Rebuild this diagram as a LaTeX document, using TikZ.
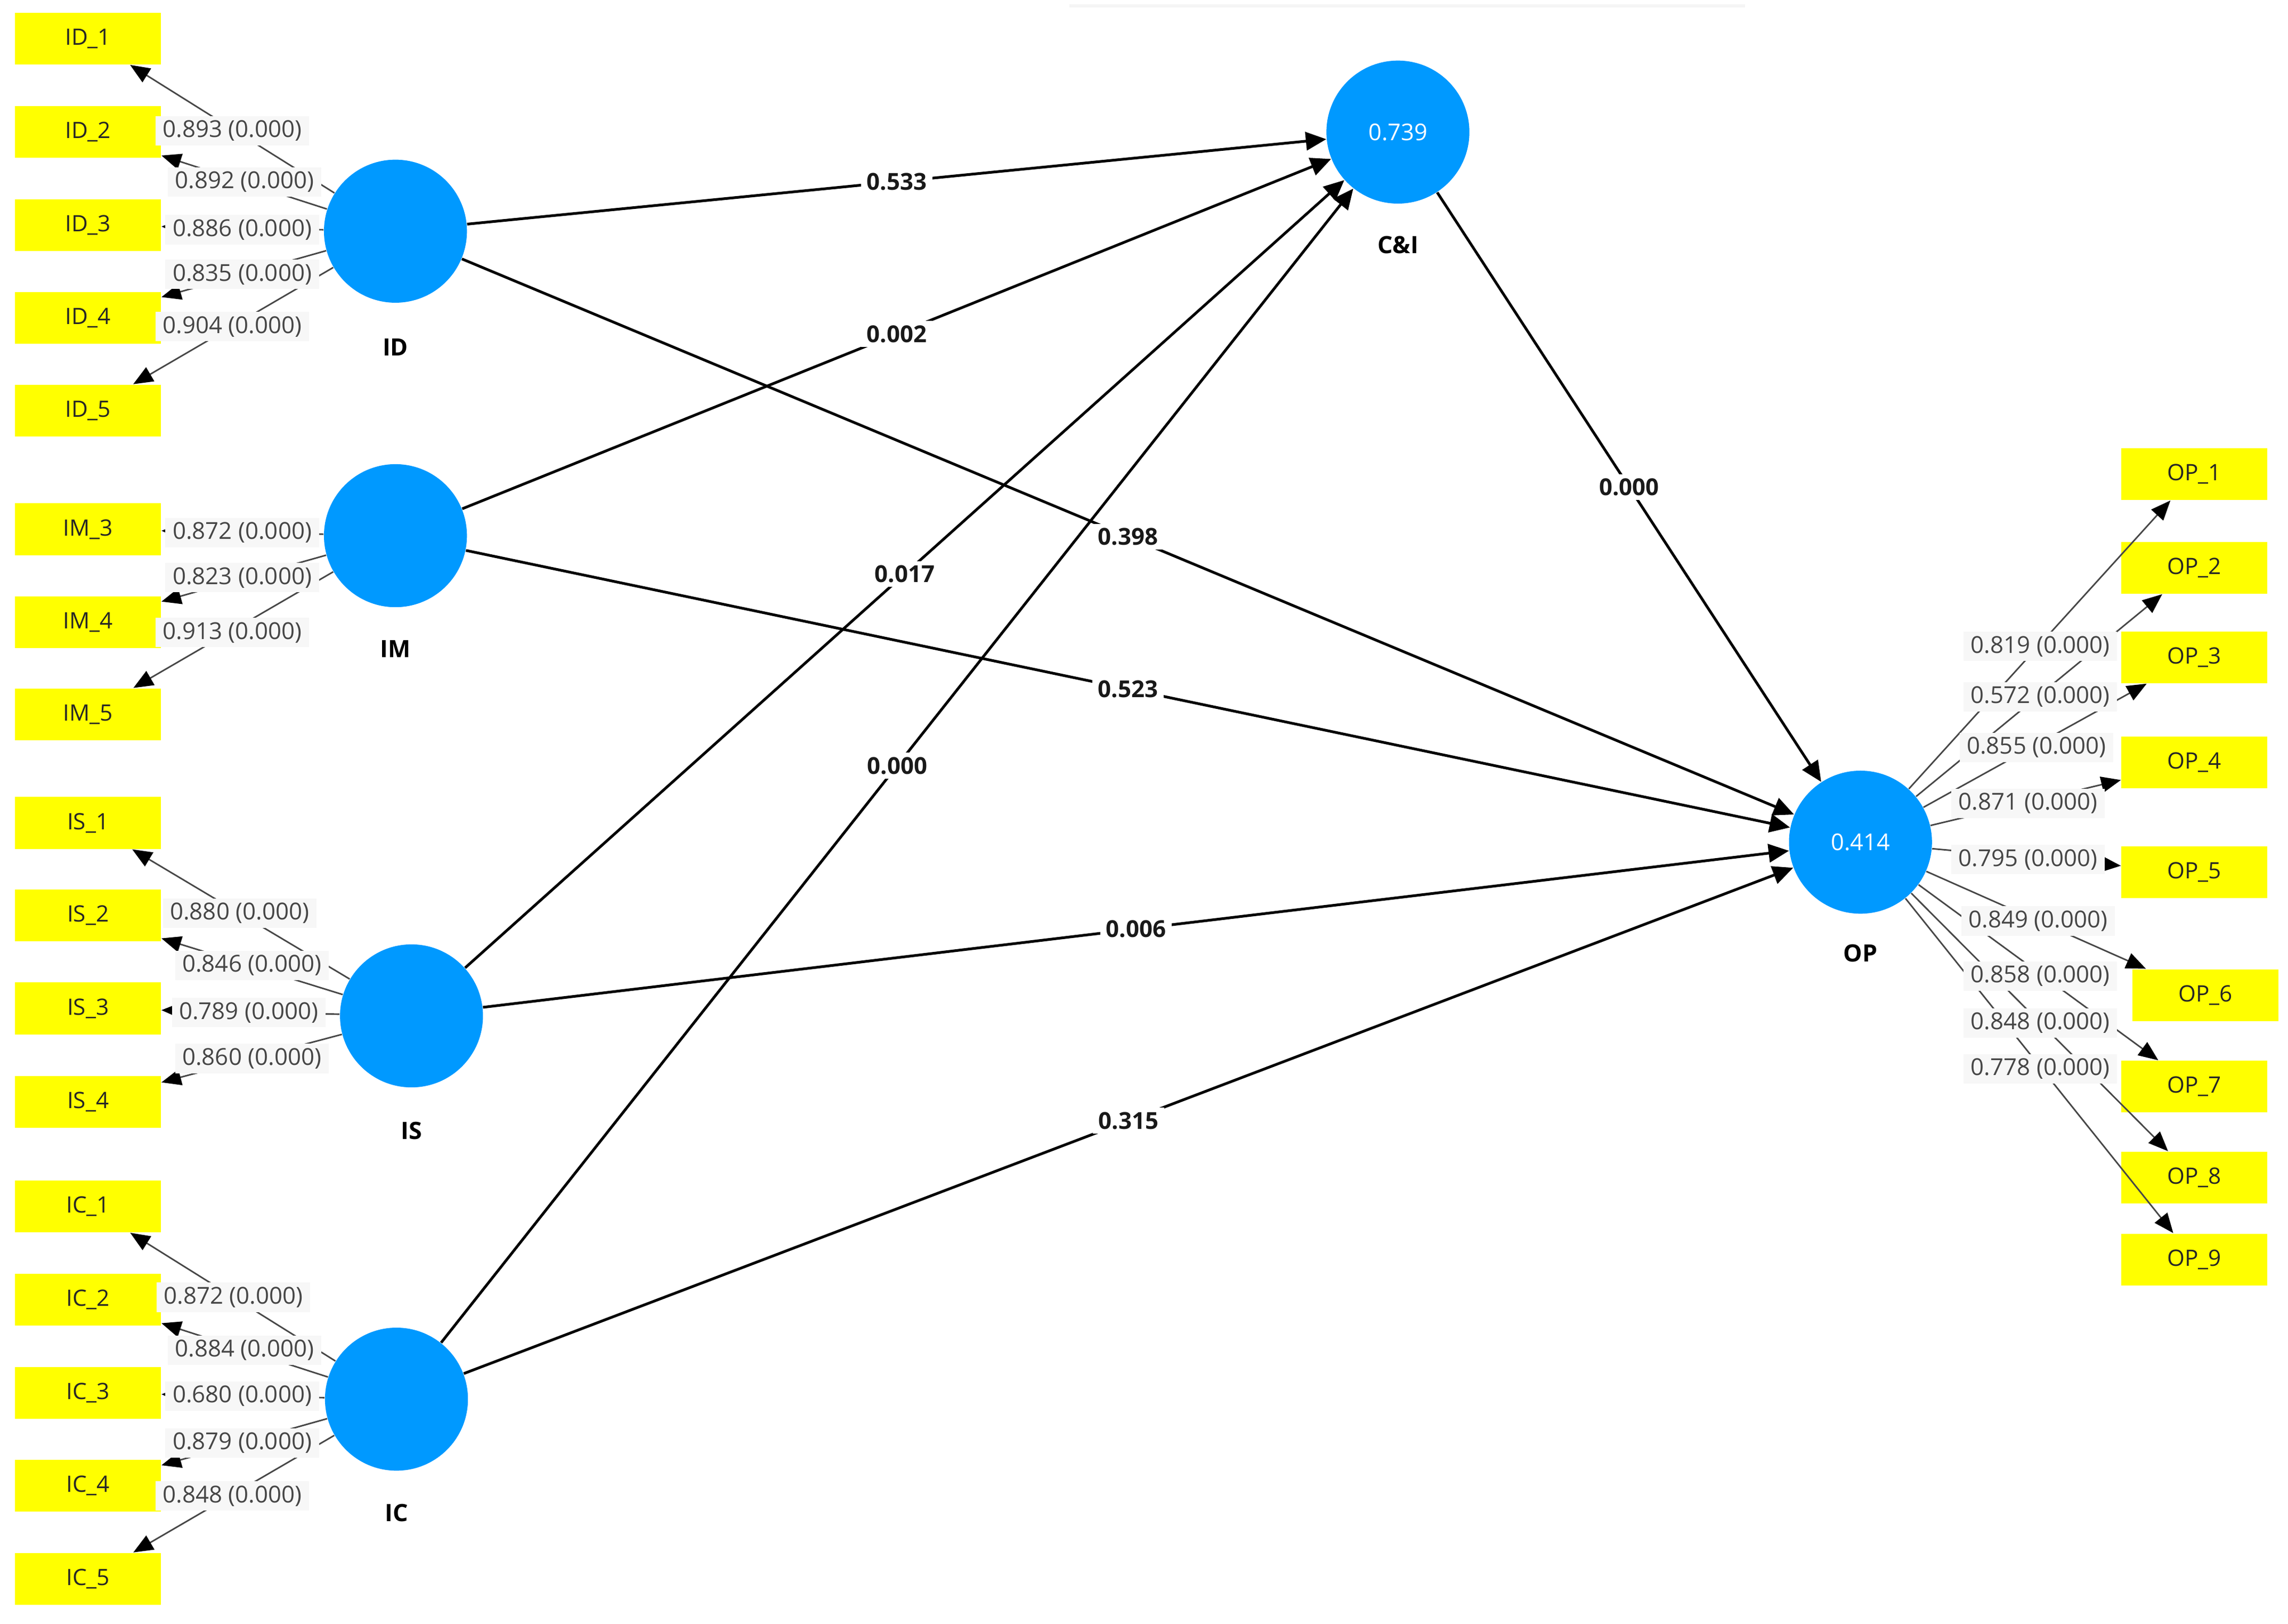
\documentclass[tikz,border=0pt]{standalone}
\usepackage{fontspec}
\setmainfont{Open Sans}
\usetikzlibrary{arrows.meta}
\definecolor{lvblue}{RGB}{0,153,255}
\definecolor{mvyellow}{RGB}{255,255,0}
\definecolor{loadtxt}{RGB}{70,70,70}
\definecolor{loadbg}{RGB}{247,247,247}
\begin{document}
\begin{tikzpicture}[x=0.02cm,y=-0.02cm,
  mv/.style={fill=mvyellow, minimum width=2cm, minimum height=0.71cm, inner sep=0pt, font=\fontsize{8.8}{10}\selectfont, text=black!85},
  lv/.style={circle, fill=lvblue, minimum size=1.96cm, inner sep=0pt, font=\fontsize{9}{10}\selectfont, text=white},
  lvname/.style={font=\bfseries\fontsize{9.3}{10}\selectfont, text=black},
  load/.style={draw=black!72, line width=0.6pt, -{Triangle[length=0.27cm,width=0.22cm,color=black]}},
  struct/.style={draw=black, line width=1.05pt, -{Triangle[length=0.28cm,width=0.25cm]}},
  loadlbl/.style={fill=loadbg, text=loadtxt, inner xsep=0.1cm, inner ysep=0.06cm, font=\fontsize{9.1}{10}\selectfont},
  coef/.style={fill=white, text=black!90, inner xsep=0.08cm, inner ysep=0.06cm, font=\bfseries\fontsize{9.1}{10}\selectfont}]

\fill[white] (0,0) rectangle (1568,1112.3);
\useasboundingbox (0,0) rectangle (1568,1112.3);

% faint artefact at the top
\draw[black!4, line width=1.2pt] (733,4) -- (1196,4);

% latent variables
\node[lv] (ID) at (271,158.4) {};
\node[lv] (IM) at (271,367) {};
\node[lv] (IS) at (282,696) {};
\node[lv] (IC) at (271.7,958.6) {};
\node[lv] (CI) at (958,90.5) {0.739};
\node[lv] (OP) at (1275,577) {0.414};

\node[lvname] (nID) at (271,238) {ID};
\node[lvname] (nIM) at (271,444.5) {IM};
\node[lvname] (nIS) at (282,774.6) {IS};
\node[lvname] (nIC) at (271.7,1036.5) {IC};
\node[lvname] (nCI) at (958,167.7) {C\&I};
\node[lvname] (nOP) at (1275,653) {OP};

% indicators
\foreach \n/\y in {1/26.4,2/90.3,3/154.2,4/217.7,5/281.3}
  \node[mv] (id\n) at (60.3,\y) {ID\_\n};
\foreach \n/\y in {3/362.6,4/426.3,5/489.4}
  \node[mv] (im\n) at (60.3,\y) {IM\_\n};
\foreach \n/\y in {1/563.8,2/627.3,3/690.9,4/754.9}
  \node[mv] (is\n) at (60.3,\y) {IS\_\n};
\foreach \n/\y in {1/826.5,2/890.3,3/954.2,4/1018,5/1081.7}
  \node[mv] (ic\n) at (60.3,\y) {IC\_\n};
\foreach \n/\y in {1/324.8,2/389,3/450.3,4/522.4,5/597.7,7/744.5,8/806.8,9/862.9}
  \node[mv] (op\n) at (1503.8,\y) {OP\_\n};
\node[mv] (op6) at (1511.4,681.8) {OP\_6};

% loading arrows
\foreach \n in {1,...,5} \draw[load] (ID) -- (id\n);
\foreach \n in {3,4,5} \draw[load] (IM) -- (im\n);
\foreach \n in {1,...,4} \draw[load] (IS) -- (is\n);
\foreach \n in {1,...,5} \draw[load] (IC) -- (ic\n);
\foreach \n in {1,...,9} \draw[load] (OP) -- (op\n);

% structural paths
\draw[struct] (ID) -- node[coef] (p1) {0.533} (CI);
\draw[struct] (IM) -- node[coef] (p2) {0.002} (CI);
\draw[struct] (IS) -- node[coef] (p3) {0.017} (CI);
\draw[struct] (IC) -- node[coef] (p4) {0.000} (CI);
\draw[struct] (ID) -- node[coef] (p5) {0.398} (OP);
\draw[struct] (IM) -- node[coef] (p6) {0.523} (OP);
\draw[struct] (IS) -- node[coef] (p7) {0.006} (OP);
\draw[struct] (IC) -- node[coef] (p8) {0.315} (OP);
\draw[struct] (CI) -- node[coef] (p9) {0.000} (OP);

% loading labels
\node[loadlbl] (lid1) at (159.3,89.5) {0.893 (0.000)};
\node[loadlbl] (lid2) at (167.7,124.7) {0.892 (0.000)};
\node[loadlbl] (lid3) at (166,157.4) {0.886 (0.000)};
\node[loadlbl] (lid4) at (166,188) {0.835 (0.000)};
\node[loadlbl] (lid5) at (159.3,223.7) {0.904 (0.000)};

\node[loadlbl] (lim3) at (166,365) {0.872 (0.000)};
\node[loadlbl] (lim4) at (166,395.8) {0.823 (0.000)};
\node[loadlbl] (lim5) at (159.3,433.4) {0.913 (0.000)};

\node[loadlbl] (lis1) at (164.2,625.6) {0.880 (0.000)};
\node[loadlbl] (lis2) at (172.6,661.4) {0.846 (0.000)};
\node[loadlbl] (lis3) at (170.4,693.7) {0.789 (0.000)};
\node[loadlbl] (lis4) at (172.6,725.2) {0.860 (0.000)};

\node[loadlbl] (lic1) at (160,888.8) {0.872 (0.000)};
\node[loadlbl] (lic2) at (167.7,925.1) {0.884 (0.000)};
\node[loadlbl] (lic3) at (166,956.4) {0.680 (0.000)};
\node[loadlbl] (lic4) at (166,988.6) {0.879 (0.000)};
\node[loadlbl] (lic5) at (159.3,1024.9) {0.848 (0.000)};

\node[loadlbl] (lop1) at (1398.3,442.8) {0.819 (0.000)};
\node[loadlbl] (lop2) at (1398.3,477.4) {0.572 (0.000)};
\node[loadlbl] (lop3) at (1395.5,512) {0.855 (0.000)};
\node[loadlbl] (lop4) at (1389.9,550.4) {0.871 (0.000)};
\node[loadlbl] (lop5) at (1389.9,588.9) {0.795 (0.000)};
\node[loadlbl] (lop6) at (1396.8,631) {0.849 (0.000)};
\node[loadlbl] (lop7) at (1398.3,668.8) {0.858 (0.000)};
\node[loadlbl] (lop8) at (1398.3,700.8) {0.848 (0.000)};
\node[loadlbl] (lop9) at (1398.3,732.2) {0.778 (0.000)};
\end{tikzpicture}
\end{document}
